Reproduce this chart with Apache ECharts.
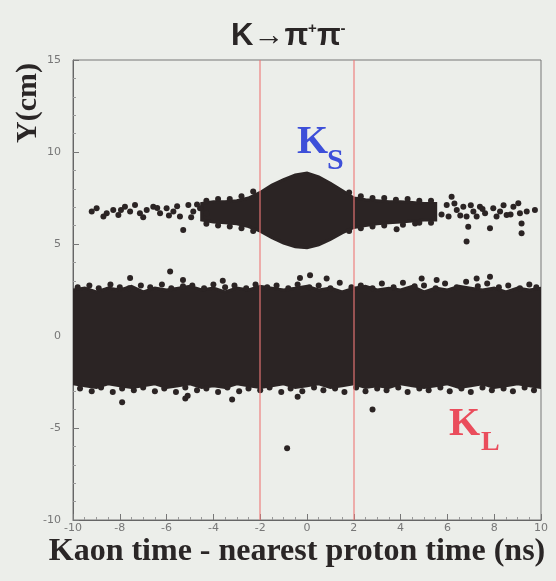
<!DOCTYPE html>
<html>
<head>
<meta charset="utf-8">
<script src="https://cdn.jsdelivr.net/npm/echarts@6/dist/echarts.min.js"></script>
<style>
  html, body { margin: 0; padding: 0; background: #eceeea; }
  #chart { width: 556px; height: 581px; }
</style>
</head>
<body>
<div id="chart"></div>
<script>
// solid core of the K_L band, edges read every 0.5 ns
const klX = [-10,-9.5,-9,-8.5,-8,-7.5,-7,-6.5,-6,-5.5,-5,-4.5,-4,-3.5,-3,-2.5,-2,-1.5,-1,-0.5,0,0.5,1,1.5,2,2.5,3,3.5,4,4.5,5,5.5,6,6.5,7,7.5,8,8.5,9,9.5,10];
const klTop = [2.5,2.6,2.4,2.6,2.5,2.7,2.4,2.6,2.5,2.6,2.7,2.5,2.6,2.4,2.6,2.5,2.7,2.6,2.5,2.6,2.7,2.5,2.6,2.4,2.6,2.7,2.5,2.6,2.5,2.7,2.4,2.6,2.5,2.7,2.6,2.5,2.6,2.4,2.6,2.5,2.6];
const klBot = [-2.6,-2.7,-2.8,-2.6,-2.7,-2.8,-2.7,-2.6,-2.8,-2.7,-2.6,-2.8,-2.7,-2.8,-2.6,-2.7,-2.8,-2.7,-2.6,-2.8,-2.7,-2.6,-2.8,-2.7,-2.6,-2.8,-2.7,-2.8,-2.6,-2.7,-2.8,-2.7,-2.6,-2.8,-2.7,-2.6,-2.8,-2.7,-2.6,-2.7,-2.8];

// solid core of the K_S band (with the bulge round t = 0)
const ksX = [-4.5,-4,-3.5,-3,-2.5,-2,-1.5,-1,-0.5,0,0.5,1,1.5,2,2.5,3,3.5,4,4.5,5,5.5];
const ksTop = [7.2,7.3,7.3,7.35,7.5,7.8,8.2,8.5,8.75,8.85,8.65,8.3,7.9,7.5,7.4,7.35,7.3,7.3,7.25,7.2,7.2];
const ksBot = [6.3,6.2,6.15,6.1,5.95,5.7,5.35,5.05,4.85,4.8,4.95,5.25,5.6,5.9,6.0,6.1,6.15,6.2,6.25,6.3,6.3];

// single events along the edges of the bands
const klTopDots = [[-9.8,2.65],[-9.3,2.75],[-8.9,2.6],[-8.4,2.8],[-8.0,2.65],[-7.6,2.6],[-7.1,2.75],[-6.7,2.65],[-6.2,2.8],[-5.8,2.6],[-5.3,2.7],[-4.9,2.75],[-4.4,2.6],[-4.0,2.8],[-3.5,2.65],[-3.1,2.75],[-2.6,2.6],[-2.2,2.8],[-1.7,2.65],[-1.3,2.75],[-0.8,2.6],[-0.4,2.8],[0.1,2.65],[0.5,2.75],[1.0,2.6],[1.4,2.9],[1.9,2.65],[2.3,2.75],[2.8,2.6],[3.2,2.85],[3.7,2.65],[4.1,2.9],[4.6,2.7],[5.0,2.75],[5.5,2.6],[5.9,2.85],[6.4,2.65],[6.8,2.95],[7.3,2.7],[7.7,2.85],[8.2,2.65],[8.6,2.75],[9.1,2.6],[9.5,2.8],[9.8,2.65]];
const klBotDots = [[-9.7,-2.85],[-9.2,-3.0],[-8.8,-2.8],[-8.3,-3.05],[-7.9,-2.85],[-7.4,-2.95],[-7.0,-2.8],[-6.5,-3.0],[-6.1,-2.85],[-5.6,-3.05],[-5.2,-2.8],[-4.7,-2.95],[-4.3,-2.85],[-3.8,-3.05],[-3.4,-2.8],[-2.9,-3.0],[-2.5,-2.85],[-2.0,-2.95],[-1.6,-2.8],[-1.1,-3.05],[-0.7,-2.85],[-0.2,-3.0],[0.3,-2.8],[0.7,-2.95],[1.2,-2.85],[1.6,-3.05],[2.1,-2.8],[2.5,-3.0],[3.0,-2.85],[3.4,-2.95],[3.9,-2.8],[4.3,-3.05],[4.8,-2.85],[5.2,-2.95],[5.7,-2.8],[6.1,-3.0],[6.6,-2.85],[7.0,-3.05],[7.5,-2.8],[7.9,-2.95],[8.4,-2.85],[8.8,-3.0],[9.3,-2.8],[9.7,-2.95]];
const ksEdgeDots = [[-4.3,7.35],[-3.8,7.45],[-3.3,7.45],[-2.8,7.6],[-2.3,7.85],[1.8,7.8],[2.3,7.6],[2.8,7.5],[3.3,7.5],[3.8,7.4],[4.3,7.45],[4.8,7.35],[5.3,7.35],[-4.3,6.1],[-3.8,6.0],[-3.3,5.95],[-2.8,5.85],[-2.3,5.7],[1.8,5.7],[2.3,5.85],[2.8,5.95],[3.3,6.0],[4.1,6.05],[4.8,6.15],[5.3,6.15]];

// sparse ends of the K_S band
const ksLeft = [[-9.2,6.76],[-8.99,6.94],[-8.56,6.67],[-8.28,6.85],[-8.06,6.58],[-7.78,7.03],[-7.56,6.76],[-7.35,7.12],[-7.14,6.67],[-6.85,6.85],[-6.57,7.03],[-6.28,6.67],[-6.0,6.94],[-5.71,6.76],[-5.43,6.49],[-5.29,5.76],[-5.07,7.12],[-4.86,6.76],[-4.57,6.94],[-4.29,6.67],[-8.7,6.5],[-7.95,6.85],[-7.0,6.45],[-6.4,6.95],[-5.9,6.55],[-5.55,7.05],[-4.95,6.45],[-4.7,7.15]];
const ksRight = [[5.97,7.12],[6.18,7.57],[6.4,6.85],[6.68,7.03],[6.82,6.49],[6.89,5.94],[6.82,5.13],[7.11,6.76],[7.39,7.03],[7.61,6.67],[7.82,5.85],[7.96,6.94],[8.25,6.76],[8.53,6.58],[8.82,7.03],[9.03,7.21],[9.1,6.67],[9.17,6.12],[9.17,5.58],[9.39,6.76],[9.74,6.85],[3.83,5.8],[4.62,6.12],[5.75,6.6],[6.05,6.5],[6.3,7.2],[6.55,6.55],[7.0,7.1],[7.25,6.5],[7.5,6.9],[8.1,6.5],[8.4,7.1],[8.7,6.6]];

// stray events
const outliers = [[-7.56,3.15],[-5.85,3.5],[-5.3,3.05],[-3.6,3.0],[-0.3,3.15],[0.13,3.3],[0.84,3.13],[4.9,3.13],[5.54,3.04],[7.25,3.13],[7.82,3.22],[-7.9,-3.6],[-5.2,-3.4],[-5.1,-3.25],[-3.2,-3.45],[-0.4,-3.3],[-0.85,-6.1],[2.8,-4.0]];

// timing cuts
const cutLines = [-2, 2];

const dark = '#2b2424';
const textDark = '#2a2626';

let myChart = echarts.init(document.getElementById('chart'));

function band(xs, top, bot) {
    return {
        type: 'custom',
        coordinateSystem: 'cartesian2d',
        silent: true,
        clip: true,
        z: 2,
        data: [[xs[0], top[0]]],
        renderItem: (params, api) => {
            let pts = xs.map((x, i) => api.coord([x, top[i]]));
            for (let i = xs.length - 1; i >= 0; i--) {
                pts.push(api.coord([xs[i], bot[i]]));
            }
            return {
                type: 'polygon',
                shape: { points: pts },
                style: { fill: dark, stroke: dark, lineWidth: 3 }
            };
        }
    };
}

let option = {
    backgroundColor: '#eceeea',
    animation: false,
    title: {
        text: '{a|K→π}{s|+}{a|π}{s|-}',
        left: 226,
        top: 16,
        textStyle: {
            rich: {
                a: { fontSize: 31, fontWeight: 'bold', fontFamily: 'Liberation Sans', color: textDark },
                s: { fontSize: 15, fontWeight: 'bold', fontFamily: 'Liberation Sans', color: textDark, verticalAlign: 'top' }
            }
        }
    },
    grid: {
        left: 73, right: 15, top: 60, bottom: 61,
        show: true,
        borderColor: '#777',
        borderWidth: 1,
        backgroundColor: 'transparent'
    },
    xAxis: {
        type: 'value',
        min: -10, max: 10, interval: 2,
        axisLine: { show: true, onZero: false, lineStyle: { color: '#666' } },
        axisTick: { inside: true, length: 6, lineStyle: { color: '#777' } },
        minorTick: { show: true, splitNumber: 4, length: 3, lineStyle: { color: '#999' } },
        splitLine: { show: false },
        axisLabel: { color: '#777', fontSize: 11, margin: 3, fontFamily: 'DejaVu Sans' }
    },
    yAxis: {
        type: 'value',
        min: -10, max: 15, interval: 5,
        axisLine: { show: true, onZero: false, lineStyle: { color: '#666' } },
        axisTick: { inside: true, length: 6, lineStyle: { color: '#777' } },
        minorTick: { show: true, splitNumber: 5, length: 3, lineStyle: { color: '#999' } },
        splitLine: { show: false },
        axisLabel: { color: '#777', fontSize: 11, margin: 12, fontFamily: 'DejaVu Sans' }
    },
    graphic: [
        {
            type: 'text', x: 28, y: 103, rotation: Math.PI / 2,
            style: { text: 'Y(cm)', font: 'bold 30px "Liberation Serif"', fill: textDark, align: 'center', verticalAlign: 'middle' }
        },
        {
            type: 'text', x: 297, y: 552,
            style: { text: 'Kaon time - nearest proton time (ns)', font: 'bold 32px "Liberation Serif"', fill: textDark, align: 'center', verticalAlign: 'middle' }
        },
        {
            type: 'text', x: 297, y: 123, z: 10,
            style: { text: 'K', font: 'bold 40px "Liberation Serif"', fill: '#3d4fd9' }
        },
        {
            type: 'text', x: 327, y: 146, z: 10,
            style: { text: 'S', font: 'bold 30px "Liberation Serif"', fill: '#3d4fd9' }
        },
        {
            type: 'text', x: 449, y: 405, z: 10,
            style: { text: 'K', font: 'bold 40px "Liberation Serif"', fill: '#ea4d5c' }
        },
        {
            type: 'text', x: 481, y: 429, z: 10,
            style: { text: 'L', font: 'bold 28px "Liberation Serif"', fill: '#ea4d5c' }
        }
    ],
    series: [
        band(klX, klTop, klBot),
        band(ksX, ksTop, ksBot),
        {
            type: 'scatter',
            z: 3,
            silent: true,
            symbolSize: 6,
            itemStyle: { color: dark, opacity: 1 },
            data: [].concat(klTopDots, klBotDots, ksEdgeDots, ksLeft, ksRight, outliers),
            markLine: {
                silent: true,
                symbol: 'none',
                label: { show: false },
                lineStyle: { color: 'rgba(238,120,120,0.75)', type: 'solid', width: 1.5 },
                data: cutLines.map(v => ({ xAxis: v }))
            }
        }
    ]
};

myChart.setOption(option);
</script>
</body>
</html>
